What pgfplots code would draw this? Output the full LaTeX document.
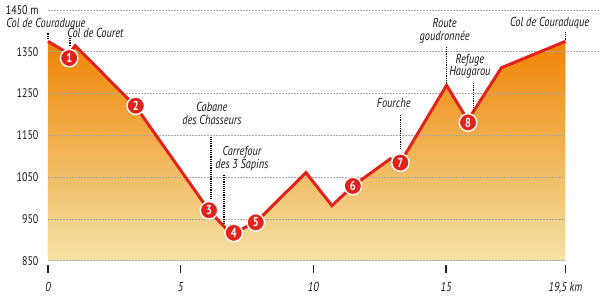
\documentclass[border=0pt]{standalone}
\usepackage{pgfplots}
\pgfplotsset{compat=1.18}
\usepackage{fontspec}
\setmainfont{PT Sans}[FakeStretch=0.8]
\definecolor{lred}{HTML}{E3231B}
\definecolor{topc}{HTML}{EF8404}
\definecolor{midc}{HTML}{F5A420}
\definecolor{botc}{HTML}{F4E2A6}
\definecolor{gridc}{HTML}{A8A8A8}
\newcommand\lab{\fontsize{13}{12.5}\selectfont\itshape}
\begin{document}
\begin{tikzpicture}
\begin{axis}[
 scale only axis, width=552pt, height=265pt,
 xmin=0, xmax=20.79, ymin=840.4, ymax=1473.9,
 axis line style={draw=none},
 xtick={0,5,10,15,19.5}, xticklabels={0,5,10,15,{19,5 km}},
 ytick={850,950,1050,1150,1250,1350,1450},
 yticklabels={850,950,1050,1150,1250,1350,{1450 m}},
 xtick pos=left, ytick pos=left,
 tick align=outside, major tick length=8pt,
 x tick style={line width=1.3pt, black!85},
 y tick style={draw=none},
 xticklabel style={font=\fontsize{13}{13}\selectfont\itshape, text=black!90, yshift=-6pt},
 yticklabel style={font=\fontsize{12.5}{13}\selectfont, text=black!90, xshift=2pt},
 clip=false,
]
\coordinate (sw) at (rel axis cs:0,0);
\coordinate (ne) at (rel axis cs:1,1);
% area
\addplot[draw=none, top color=topc, middle color=midc, bottom color=botc] coordinates {
(0,850)(0,1375)(0.8,1345)(1.02,1365)(3.31,1219)(6.05,972)(6.9,914)(7.83,942)(9.72,1061)(10.70,982)(11.49,1029)(12.9,1094)(13.28,1085)(15.02,1270)(15.82,1186)(17.09,1312)(19.5,1375)(19.5,850)};
% grid lines
\pgfplotsinvokeforeach{850,950,1050,1150,1250}{
\addplot[gridc, dash pattern=on 2pt off 1pt, line width=0.7pt] coordinates {(0,#1)(19.5,#1)};
}
\pgfplotsinvokeforeach{1350,1450}{
\addplot[gridc, dash pattern=on 2pt off 1pt, line width=0.7pt] coordinates {(0,#1)(20.79,#1)};
}
% profile
\addplot[lred, line width=3pt, line join=miter] coordinates {
(0,1375)(0.8,1345)(1.02,1365)(3.31,1219)(6.05,972)(6.9,914)(7.83,942)(9.72,1061)(10.70,982)(11.49,1029)(12.9,1094)(13.28,1085)(15.02,1270)(15.82,1186)(17.09,1312)(19.5,1375)};
% leader lines
\draw[black, densely dotted, line width=1.2pt] (axis cs:0,1394) -- (axis cs:0,1383);
\draw[black, densely dotted, line width=1.2pt] (axis cs:0.83,1383) -- (axis cs:0.83,1362);
\draw[black, densely dotted, line width=1.2pt] (axis cs:6.14,1147) -- (axis cs:6.14,996);
\draw[black, densely dotted, line width=1.2pt] (axis cs:6.63,1056) -- (axis cs:6.63,936);
\draw[black, densely dotted, line width=1.2pt] (axis cs:13.28,1199) -- (axis cs:13.28,1116);
\draw[black, densely dotted, line width=1.2pt] (axis cs:15.02,1362) -- (axis cs:15.02,1276);
\draw[black, densely dotted, line width=1.2pt] (axis cs:16.04,1276) -- (axis cs:16.04,1206);
\draw[black, densely dotted, line width=1.2pt] (axis cs:19.51,1398) -- (axis cs:19.51,1379);
% markers
\addplot[draw=none, mark=none, point meta=explicit symbolic, nodes near coords,
 nodes near coords style={anchor=center, circle, fill=lred, draw=white, line width=1.4pt, inner sep=0pt, minimum size=17.5pt, text=white, font=\fontsize{13}{13}\selectfont\bfseries}]
 coordinates {(0.8,1335)[1] (3.31,1221)[2] (6.07,971)[3] (7.0,917)[4] (7.83,942)[5] (11.49,1029)[6] (13.28,1085)[7] (15.83,1181)[8]};
% labels
\node[font=\lab, text=black!90, inner sep=1pt] at (axis cs:-0.075,1416) {Col de Couraduque};
\node[font=\lab, text=black!90, anchor=west, inner sep=0pt] at (axis cs:0.72,1395) {Col de Couret};
\node[font=\lab, text=black!90, align=center] at (axis cs:6.18,1203) {Cabane\\des Chasseurs};
\node[font=\lab, text=black!90, align=center] at (axis cs:7.31,1094) {Carrefour\\des 3 Sapins};
\node[font=\lab, text=black!90] at (axis cs:13.03,1228) {Fourche};
\node[font=\lab, text=black!90, align=center] at (axis cs:14.95,1400) {Route\\goudronnée};
\node[font=\lab, text=black!90, align=center] at (axis cs:15.9,1315) {Refuge\\Haugarou};
\node[font=\lab, text=black!90] at (axis cs:18.91,1419) {Col de Couraduque};
\end{axis}
\path ([xshift=-48pt,yshift=-30pt]sw) rectangle (ne);
\end{tikzpicture}
\end{document}
